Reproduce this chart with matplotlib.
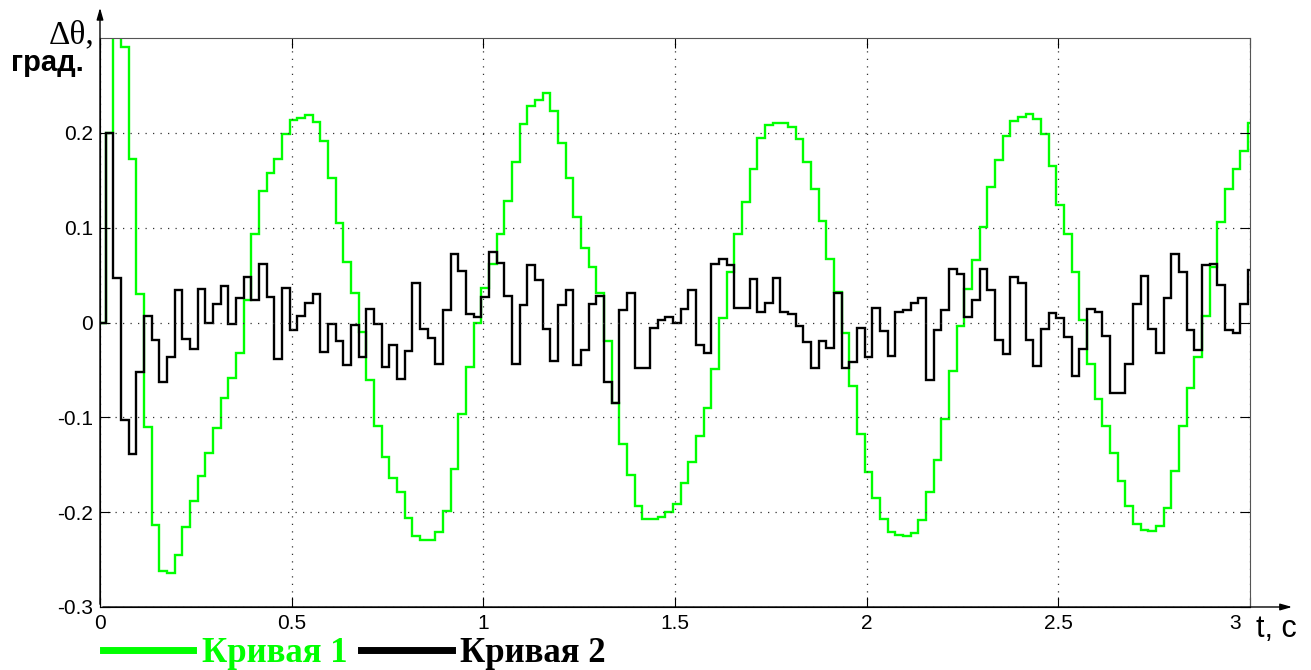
import numpy as np
import matplotlib.pyplot as plt
from matplotlib.transforms import ScaledTranslation

# both signals are held for 0.02 s, first switch at 0.015 s
t_first = 0.015
dt = 0.02
t_end = 3.0

curve1 = [0.0, 0.2, 0.35, 0.29, 0.172, 0.030, -0.110, -0.214, -0.262, -0.264, -0.245,
          -0.216, -0.188, -0.162, -0.138, -0.111, -0.080, -0.059, -0.032, 0.024, 0.093,
          0.139, 0.158, 0.172, 0.199, 0.214, 0.216, 0.219, 0.211, 0.191, 0.152,
          0.105, 0.064, 0.031, -0.010, -0.061, -0.109, -0.142, -0.164, -0.179, -0.206,
          -0.225, -0.229, -0.229, -0.221, -0.199, -0.154, -0.097, -0.047, -0.001, 0.036,
          0.062, 0.093, 0.128, 0.169, 0.209, 0.228, 0.235, 0.242, 0.223, 0.189,
          0.152, 0.111, 0.079, 0.059, 0.031, -0.019, -0.085, -0.128, -0.161, -0.193,
          -0.207, -0.207, -0.205, -0.200, -0.191, -0.169, -0.147, -0.120, -0.090, -0.049,
          0.005, 0.053, 0.093, 0.127, 0.162, 0.195, 0.208, 0.210, 0.210, 0.206,
          0.194, 0.169, 0.141, 0.107, 0.067, 0.032, -0.011, -0.067, -0.118, -0.158,
          -0.185, -0.207, -0.221, -0.224, -0.225, -0.222, -0.208, -0.179, -0.145, -0.102,
          -0.051, -0.004, 0.035, 0.066, 0.101, 0.143, 0.171, 0.197, 0.213, 0.217,
          0.220, 0.215, 0.199, 0.165, 0.124, 0.093, 0.053, 0.003, -0.044, -0.081,
          -0.109, -0.138, -0.167, -0.194, -0.213, -0.219, -0.220, -0.215, -0.196, -0.157,
          -0.109, -0.069, -0.036, 0.007, 0.059, 0.106, 0.141, 0.162, 0.181, 0.210]

curve2 = [0.0, 0.2, 0.047, -0.103, -0.139, -0.052, 0.007, -0.018, -0.063, -0.036, 0.034,
          -0.017, -0.028, 0.035, 0.0, 0.019, 0.039, -0.002, 0.026, 0.048, 0.024,
          0.062, 0.027, -0.038, 0.036, -0.008, 0.007, 0.021, 0.030, -0.031, -0.002,
          -0.019, -0.045, -0.003, -0.036, 0.014, -0.002, -0.047, -0.024, -0.060, -0.030,
          0.042, -0.007, -0.016, -0.044, 0.013, 0.072, 0.054, 0.009, 0.006, 0.027,
          0.074, 0.063, 0.028, -0.044, 0.018, 0.061, 0.045, -0.007, -0.041, 0.018,
          0.034, -0.045, -0.029, 0.019, 0.028, -0.063, -0.085, 0.013, 0.031, -0.048,
          -0.048, -0.006, 0.003, 0.006, 0.000, 0.014, 0.034, -0.024, -0.032, 0.062,
          0.067, 0.061, 0.015, 0.015, 0.046, 0.011, 0.021, 0.047, 0.011, 0.009,
          -0.004, -0.021, -0.048, -0.019, -0.027, 0.031, -0.048, -0.042, -0.006, -0.036,
          0.015, -0.009, -0.035, 0.011, 0.013, 0.021, 0.026, -0.061, -0.008, 0.013,
          0.056, 0.051, 0.006, 0.024, 0.056, 0.034, -0.018, -0.033, 0.048, 0.042,
          -0.018, -0.046, -0.007, 0.010, 0.005, -0.015, -0.056, -0.028, 0.014, 0.011,
          -0.014, -0.074, -0.074, -0.044, 0.020, 0.049, -0.007, -0.032, 0.026, 0.072,
          0.053, -0.008, -0.029, 0.061, 0.062, 0.040, -0.008, -0.011, 0.019, 0.055]

labels = ['Кривая 1', 'Кривая 2']
x_ticks = [0, 0.5, 1, 1.5, 2, 2.5, 3]
x_ticklabels = ['0', '0.5', '1', '1.5', '2', '2.5', '3']
y_ticks = [-0.3, -0.2, -0.1, 0, 0.1, 0.2]
y_ticklabels = ['-0.3', '-0.2', '-0.1', '0', '0.1', '0.2']

edges = np.concatenate([[0.0], t_first + dt * np.arange(len(curve1) - 1), [t_end]])

W, H = 1311, 670
fig = plt.figure(figsize=(W / 100, H / 100), dpi=100)
ax = fig.add_axes([100 / W, 1 - 607 / H, 1150 / W, 569 / H])

ax.stairs(curve1, edges, baseline=None, color='#00ff00', lw=1.7, label=labels[0])
ax.stairs(curve2, edges, baseline=None, color='black', lw=1.7, label=labels[1])

ax.set_xlim(0, 3)
ax.set_ylim(-0.3, 0.3)
ax.set_xticks(x_ticks)
ax.set_xticklabels(x_ticklabels)
ax.set_yticks(y_ticks)
ax.set_yticklabels(y_ticklabels)
ax.tick_params(direction='in', length=7, width=0.8, top=True, right=True,
               labelsize=15, pad=5, colors='black')
for lab in ax.get_xticklabels() + ax.get_yticklabels():
    lab.set_family('Liberation Sans')
# the last x label sits left of its tick to make room for the axis name
last = ax.get_xticklabels()[-1]
last.set_transform(last.get_transform() + ScaledTranslation(-11 / 72, 0, fig.dpi_scale_trans))

ax.grid(True, linestyle=(0, (1, 5)), color='#333333', lw=0.9)
for side in ['left', 'bottom']:
    ax.spines[side].set_color('black')
for side in ['top', 'right']:
    ax.spines[side].set_color('#555555')

# axis arrows
ax.annotate('', xy=(0, 1.058), xytext=(0, 0), xycoords='axes fraction',
            arrowprops=dict(arrowstyle='-|>,head_length=0.7,head_width=0.2', lw=1, color='black'),
            annotation_clip=False)
ax.annotate('', xy=(1.039, 0), xytext=(0, 0), xycoords='axes fraction',
            arrowprops=dict(arrowstyle='-|>,head_length=0.7,head_width=0.2', lw=1, color='black'),
            annotation_clip=False)

# axis names
fig.text(94 / W, 1 - 35 / H, 'Δθ,', family='Liberation Serif', fontsize=24,
         ha='right', va='center')
fig.text(84 / W, 1 - 63 / H, 'град.', family='Liberation Sans', fontweight='bold',
         fontsize=21, ha='right', va='center')
fig.text(1256 / W, 1 - 629 / H, 't, c', family='Liberation Sans', fontsize=22,
         ha='left', va='center')

fig.legend(loc='center left', bbox_to_anchor=(103 / W, 1 - 654 / H), ncol=2,
           frameon=False, borderpad=0, borderaxespad=0,
           handlelength=2.6, handletextpad=0.25, columnspacing=0.4,
           labelcolor='linecolor',
           prop=dict(family='Liberation Serif', weight='bold', size=25))
leg = fig.legends[0]
for line in leg.get_lines():
    line.set_linewidth(5)
for patch in leg.get_patches():
    patch.set_linewidth(5)

fig.savefig('out.png', dpi=100)
